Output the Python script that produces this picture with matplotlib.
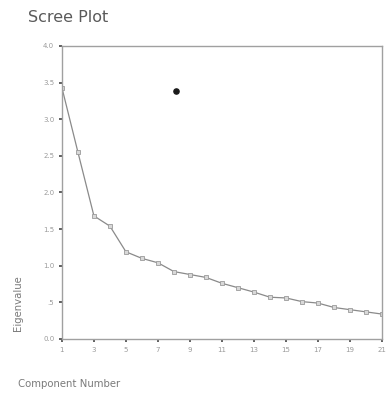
import numpy as np
import matplotlib
matplotlib.use("Agg")
import matplotlib.pyplot as plt

# eigenvalues
components = list(range(1, 22))
eigenvalues = [3.43, 2.55, 1.68, 1.54, 1.19, 1.10, 1.04, 0.92, 0.88, 0.84,
               0.76, 0.70, 0.64, 0.57, 0.56, 0.51, 0.49, 0.43, 0.40, 0.37, 0.34]
stray_x = [8.1]
stray_y = [3.39]

x_ticks = list(range(1, 22, 2))
y_ticks = [0.0, 0.5, 1.0, 1.5, 2.0, 2.5, 3.0, 3.5, 4.0]
y_ticklabels = ["0.0", ".5", "1.0", "1.5", "2.0", "2.5", "3.0", "3.5", "4.0"]

LINE = "#8a8a8a"

fig = plt.figure(figsize=(3.87, 3.96), dpi=100)
ax = fig.add_axes([0.160, 0.144, 0.827, 0.740])

ax.plot(components, eigenvalues, color=LINE, linewidth=0.9,
        marker="s", markersize=3.5, markerfacecolor="#d8d8d8",
        markeredgecolor="#9a9a9a", markeredgewidth=0.6)
ax.scatter(stray_x, stray_y, s=14, color="#1a1a1a", zorder=3)

ax.set_xlim(1, 21)
ax.set_ylim(0, 4.0)
ax.set_xticks(x_ticks)
ax.set_yticks(y_ticks)
ax.set_yticklabels(y_ticklabels)
ax.tick_params(axis="both", length=2.5, width=1.2, color="#444444",
               labelsize=5, labelcolor="#9a9a9a", pad=3)

for s in ax.spines.values():
    s.set_color("#a0a0a0")
    s.set_linewidth(1.0)

fig.text(28 / 387, 1 - 18 / 396, "Scree Plot", fontsize=11.5,
         color="#5a5a5a", ha="left", va="center")
fig.text(18 / 387, 1 - 303 / 396, "Eigenvalue", fontsize=7.3,
         color="#7a7a7a", rotation=90, ha="center", va="center")
fig.text(18 / 387, 1 - 384 / 396, "Component Number", fontsize=7.3,
         color="#7a7a7a", ha="left", va="center")

fig.savefig("out.png", dpi=100)
